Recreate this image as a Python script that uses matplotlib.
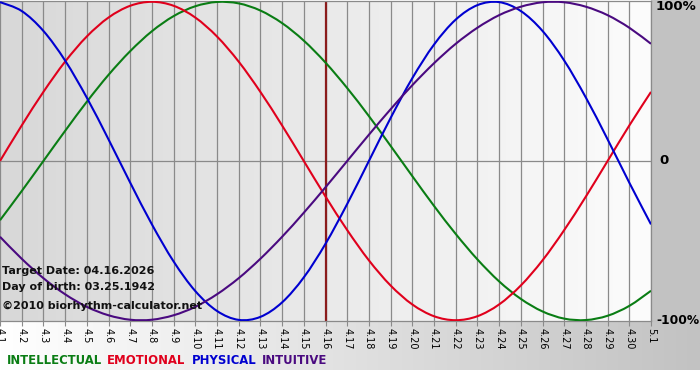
import numpy as np
import matplotlib.pyplot as plt
from matplotlib.colors import LinearSegmentedColormap
from matplotlib.patches import Rectangle, PathPatch
from matplotlib.path import Path

# day labels, 4.1 .. 5.1
days = [f"4.{d}" for d in range(1, 31)] + ["5.1"]

# cycle values (fraction of 100%)
intellectual = [-0.372, -0.189, 0.0, 0.189, 0.372, 0.541, 0.690, 0.815, 0.910, 0.972,
                0.999, 0.990, 0.945, 0.866, 0.756, 0.618, 0.458, 0.282, 0.095, -0.095,
                -0.282, -0.458, -0.618, -0.756, -0.866, -0.945, -0.990, -0.999, -0.972,
                -0.910, -0.815]
emotional = [0.0, 0.223, 0.434, 0.624, 0.782, 0.901, 0.975, 1.0, 0.975, 0.901, 0.782,
             0.624, 0.434, 0.223, 0.0, -0.223, -0.434, -0.624, -0.782, -0.901, -0.975,
             -1.0, -0.975, -0.901, -0.782, -0.624, -0.434, -0.223, 0.0, 0.223, 0.434]
physical = [0.998, 0.942, 0.817, 0.631, 0.398, 0.136, -0.136, -0.398, -0.631, -0.817,
            -0.942, -0.998, -0.979, -0.888, -0.731, -0.520, -0.270, 0.0, 0.270, 0.520,
            0.731, 0.888, 0.979, 0.998, 0.942, 0.817, 0.631, 0.398, 0.136, -0.136,
            -0.398]
intuitive = [-0.476, -0.614, -0.736, -0.837, -0.916, -0.969, -0.997, -0.997, -0.969,
             -0.916, -0.837, -0.736, -0.614, -0.476, -0.325, -0.165, 0.0, 0.165, 0.325,
             0.476, 0.614, 0.736, 0.837, 0.916, 0.969, 0.997, 0.997, 0.969, 0.916,
             0.837, 0.736]

target_idx = 15
info_lines = ["Target Date: 04.16.2026", "Day of birth: 03.25.1942",
              "\u00a92010 biorhythm-calculator.net"]
legend_names = ["INTELLECTUAL", "EMOTIONAL", "PHYSICAL", "INTUITIVE"]

C_INT = "#0a7d14"
C_EMO = "#e0001c"
C_PHY = "#0000d0"
C_ITU = "#4a0a80"
GRID = "#8a8a8a"


def smooth_path(xs, ys):
    # catmull-rom through the daily points, drawn as bezier segments
    p = np.column_stack([xs, ys]).astype(float)
    ext = np.vstack([p[0], p, p[-1]])
    verts = [p[0]]
    codes = [Path.MOVETO]
    for i in range(len(p) - 1):
        p0, p1, p2, p3 = ext[i], ext[i + 1], ext[i + 2], ext[i + 3]
        verts += [p1 + (p2 - p0) / 6, p2 - (p3 - p1) / 6, p2]
        codes += [Path.CURVE4] * 3
    return Path(verts, codes)


fig = plt.figure(figsize=(7, 3.8), dpi=100, facecolor="white")

# gray column on the right and gradient band under the plot
fig.patches.append(Rectangle((651 / 700, 59 / 380), 49 / 700, 321 / 380,
                             transform=fig.transFigure, color="#c2c2c2", zorder=0))
band = fig.add_axes([0, 10 / 380, 1, 49 / 380], zorder=0)
grad = np.linspace(0, 1, 256).reshape(1, -1)
band.imshow(grad, aspect="auto", extent=[0, 1, 0, 1],
            cmap=LinearSegmentedColormap.from_list("b", ["#ffffff", "#c2c2c2"]))
band.axis("off")

ax = fig.add_axes([0, 59 / 380, 651 / 700, 320 / 380], zorder=2)
x = np.arange(len(days))
ax.imshow(grad, aspect="auto", extent=[0, 1, 0, 1], transform=ax.transAxes, zorder=0,
          cmap=LinearSegmentedColormap.from_list("p", ["#d8d8d8", "#fcfcfc"]))

for xi in x:
    ax.axvline(xi, color=GRID, lw=0.9, zorder=1)
ax.axhline(0, color=GRID, lw=0.9, zorder=1)
ax.axvline(target_idx, color="#8b1c1c", lw=1.6, zorder=1.5)

for vals, col in [(intellectual, C_INT), (emotional, C_EMO),
                  (physical, C_PHY), (intuitive, C_ITU)]:
    ax.add_patch(PathPatch(smooth_path(x, vals), fill=False, edgecolor=col,
                           lw=1.5, zorder=3))

ax.set_xlim(0, len(days) - 1)
ax.set_ylim(-1.005, 1.005)
ax.set_yticks([])
ax.set_xticks(x)
ax.set_xticklabels(days, rotation=270, fontsize=7, va="top", ha="center")
ax.tick_params(axis="x", length=3.5, width=0.8, color=GRID, pad=1.5)
for side in ["top", "bottom", "right"]:
    ax.spines[side].set_color(GRID)
    ax.spines[side].set_linewidth(0.9)
ax.spines["left"].set_visible(False)

for txt, yy in zip(info_lines, [0.156, 0.106, 0.047]):
    ax.text(0.003, yy, txt, transform=ax.transAxes, fontsize=8, fontweight="bold",
            va="center", ha="left", color="#111111", zorder=4)

fig.text(656 / 700, 1 - 7 / 380, "100%", fontsize=9.5, fontweight="bold", va="center")
fig.text(659 / 700, 1 - 161 / 380, "0", fontsize=9.5, fontweight="bold", va="center")
fig.text(656 / 700, 1 - 321 / 380, "-100%", fontsize=8.8, fontweight="bold", va="center")

for name, col, xx in zip(legend_names, [C_INT, C_EMO, C_PHY, C_ITU], [7, 107, 192, 262]):
    fig.text(xx / 700, 1 - 361 / 380, name, color=col, fontsize=8.4, fontweight="bold",
             va="center", ha="left")

fig.savefig("out.png", dpi=100, facecolor="white")
